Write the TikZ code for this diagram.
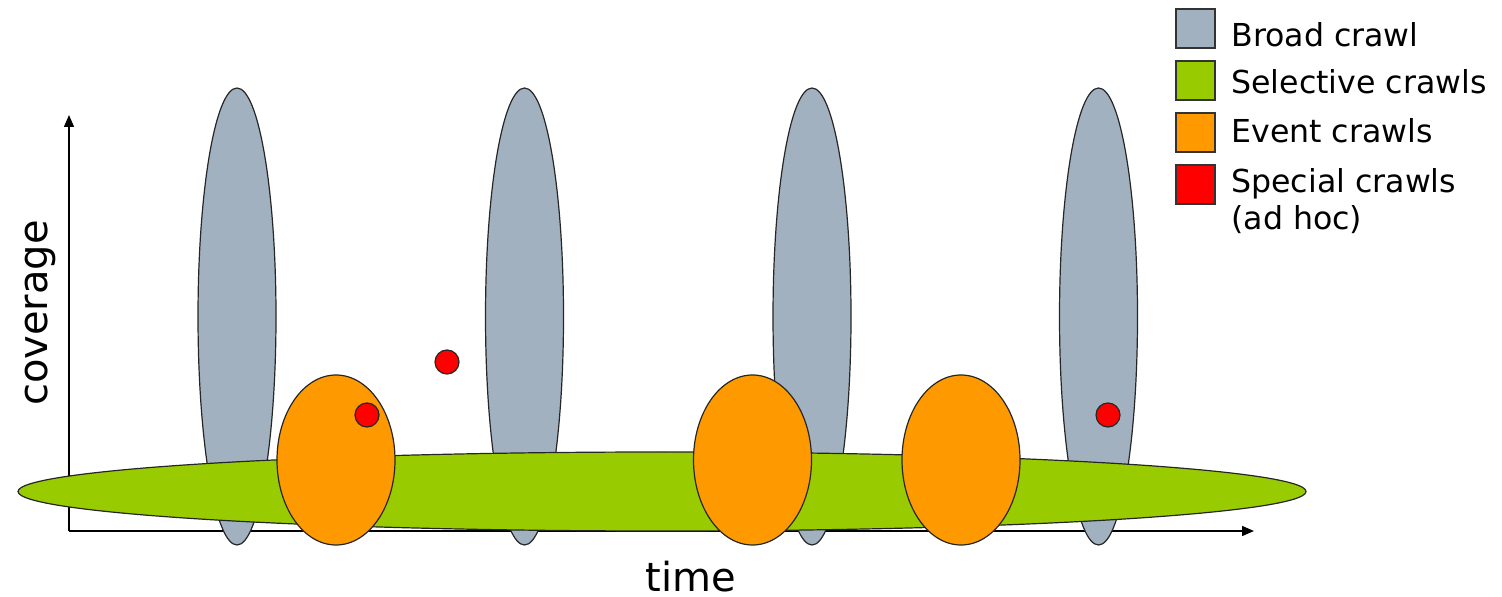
\documentclass[tikz,border=0pt]{standalone}
\usepackage{fontspec}
\setmainfont{DejaVu Sans}
\usetikzlibrary{shapes.geometric,arrows.meta}
\definecolor{broadc}{HTML}{A2B1C0}
\definecolor{selc}{HTML}{99CC00}
\definecolor{evc}{HTML}{FF9900}
\definecolor{spc}{HTML}{FF0000}
\begin{document}
\begin{tikzpicture}[x=0.5pt,y=-0.5pt,
  shp/.style={draw=black!85,line width=0.6pt,inner sep=0pt,outer sep=0pt},
  broad/.style={shp,ellipse,fill=broadc,minimum width=39pt,minimum height=228.5pt},
  sel/.style={shp,ellipse,fill=selc,minimum width=644pt,minimum height=39.5pt},
  ev/.style={shp,ellipse,fill=evc,minimum width=59pt,minimum height=85pt},
  sp/.style={shp,circle,fill=spc,minimum size=12pt},
  legbox/.style={shp,draw=black!80,line width=0.8pt,minimum size=19.5pt},
  legtext/.style={anchor=west,inner sep=0pt,font=\fontsize{15.8}{18.5}\selectfont},
  axis/.style={line width=0.7pt,-{Triangle[length=6pt,width=5pt]}}
]
\useasboundingbox (0,0) rectangle (1502,597);
% axes
\coordinate (o) at (69,531);
\coordinate (ytop) at (69,115);
\coordinate (xend) at (1254,531);
\draw[axis] (o) -- (ytop);
\draw[axis] (o) -- (xend);
% broad crawls
\node[broad] (b1) at (237,316.5) {};
\node[broad] (b2) at (524.5,316.5) {};
\node[broad] (b3) at (812,316.5) {};
\node[broad] (b4) at (1098.5,316.5) {};
% selective crawl
\node[sel] (s1) at (662,491.5) {};
% event crawls
\node[ev] (e1) at (336,460) {};
\node[ev] (e2) at (752.5,460) {};
\node[ev] (e3) at (961,460) {};
% special crawls
\node[sp] (p1) at (447,362) {};
\node[sp] (p2) at (367,415) {};
\node[sp] (p3) at (1108,415) {};
% axis labels
\node[rotate=90,font=\fontsize{20}{24}\selectfont,inner sep=0pt] (cov) at (40,313) {coverage};
\node[font=\fontsize{20}{24}\selectfont,inner sep=0pt] (time) at (691,577) {time};
% legend
\node[legbox,fill=broadc] (l1) at (1195.5,28.5) {};
\node[legbox,fill=selc] (l2) at (1195.5,80.5) {};
\node[legbox,fill=evc] (l3) at (1195.5,132.5) {};
\node[legbox,fill=spc] (l4) at (1195.5,184.5) {};
\node[legtext] (t1) at (1231,35) {Broad crawl};
\node[legtext] (t2) at (1231,82) {Selective crawls};
\node[legtext] (t3) at (1231,131) {Event crawls};
\node[legtext,align=left] (t4) at (1231,201) {Special crawls\\(ad hoc)};
\end{tikzpicture}
\end{document}
